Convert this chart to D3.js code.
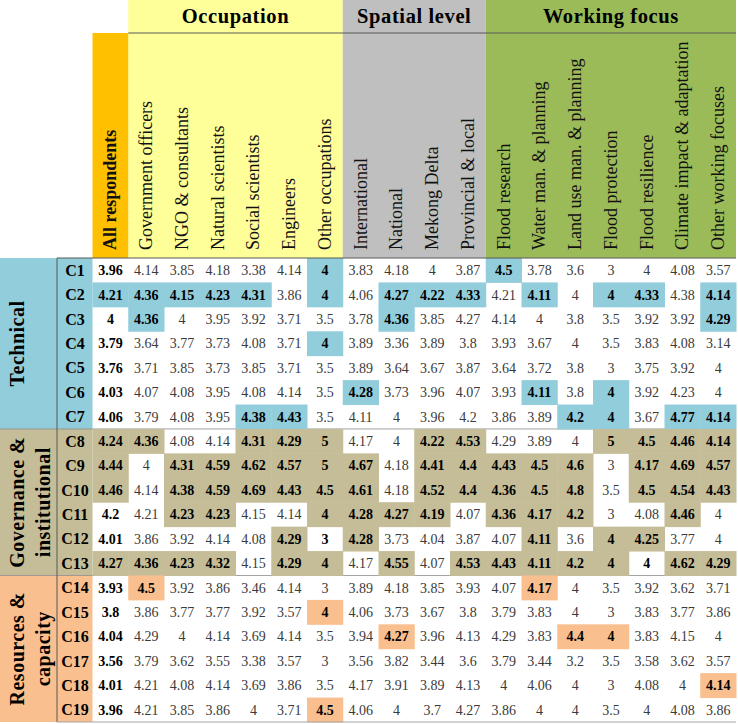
<!DOCTYPE html>
<html>
<head>
<meta charset="utf-8">
<script src="https://cdn.jsdelivr.net/npm/d3@7"></script>
<style>
  body { margin: 0; background: #fff; }
</style>
</head>
<body>
<div id="chart"></div>
<script>
// columns
const columns = [
  "All respondents",
  "Government officers", "NGO & consultants", "Natural scientists", "Social scientists", "Engineers", "Other occupations",
  "International", "National", "Mekong Delta", "Provincial & local",
  "Flood research", "Water man. & planning", "Land use man. & planning", "Flood protection",
  "Flood resilience", "Climate impact & adaptation", "Other working focuses"
];
const columnGroups = [
  { name: "Occupation", first: 1, last: 6 },
  { name: "Spatial level", first: 7, last: 10 },
  { name: "Working focus", first: 11, last: 17 }
];

// row blocks
const rowGroups = [
  { name: ["Technical"], rows: ["C1", "C2", "C3", "C4", "C5", "C6", "C7"] },
  { name: ["Governance &", "institutional"], rows: ["C8", "C9", "C10", "C11", "C12", "C13"] },
  { name: ["Resources &", "capacity"], rows: ["C14", "C15", "C16", "C17", "C18", "C19"] }
];

const values = {
  C1:  [3.96, 4.14, 3.85, 4.18, 3.38, 4.14, 4, 3.83, 4.18, 4, 3.87, 4.5, 3.78, 3.6, 3, 4, 4.08, 3.57],
  C2:  [4.21, 4.36, 4.15, 4.23, 4.31, 3.86, 4, 4.06, 4.27, 4.22, 4.33, 4.21, 4.11, 4, 4, 4.33, 4.38, 4.14],
  C3:  [4, 4.36, 4, 3.95, 3.92, 3.71, 3.5, 3.78, 4.36, 3.85, 4.27, 4.14, 4, 3.8, 3.5, 3.92, 3.92, 4.29],
  C4:  [3.79, 3.64, 3.77, 3.73, 4.08, 3.71, 4, 3.89, 3.36, 3.89, 3.8, 3.93, 3.67, 4, 3.5, 3.83, 4.08, 3.14],
  C5:  [3.76, 3.71, 3.85, 3.73, 3.85, 3.71, 3.5, 3.89, 3.64, 3.67, 3.87, 3.64, 3.72, 3.8, 3, 3.75, 3.92, 4],
  C6:  [4.03, 4.07, 4.08, 3.95, 4.08, 4.14, 3.5, 4.28, 3.73, 3.96, 4.07, 3.93, 4.11, 3.8, 4, 3.92, 4.23, 4],
  C7:  [4.06, 3.79, 4.08, 3.95, 4.38, 4.43, 3.5, 4.11, 4, 3.96, 4.2, 3.86, 3.89, 4.2, 4, 3.67, 4.77, 4.14],
  C8:  [4.24, 4.36, 4.08, 4.14, 4.31, 4.29, 5, 4.17, 4, 4.22, 4.53, 4.29, 3.89, 4, 5, 4.5, 4.46, 4.14],
  C9:  [4.44, 4, 4.31, 4.59, 4.62, 4.57, 5, 4.67, 4.18, 4.41, 4.4, 4.43, 4.5, 4.6, 3, 4.17, 4.69, 4.57],
  C10: [4.46, 4.14, 4.38, 4.59, 4.69, 4.43, 4.5, 4.61, 4.18, 4.52, 4.4, 4.36, 4.5, 4.8, 3.5, 4.5, 4.54, 4.43],
  C11: [4.2, 4.21, 4.23, 4.23, 4.15, 4.14, 4, 4.28, 4.27, 4.19, 4.07, 4.36, 4.17, 4.2, 3, 4.08, 4.46, 4],
  C12: [4.01, 3.86, 3.92, 4.14, 4.08, 4.29, 3, 4.28, 3.73, 4.04, 3.87, 4.07, 4.11, 3.6, 4, 4.25, 3.77, 4],
  C13: [4.27, 4.36, 4.23, 4.32, 4.15, 4.29, 4, 4.17, 4.55, 4.07, 4.53, 4.43, 4.11, 4.2, 4, 4, 4.62, 4.29],
  C14: [3.93, 4.5, 3.92, 3.86, 3.46, 4.14, 3, 3.89, 4.18, 3.85, 3.93, 4.07, 4.17, 4, 3.5, 3.92, 3.62, 3.71],
  C15: [3.8, 3.86, 3.77, 3.77, 3.92, 3.57, 4, 4.06, 3.73, 3.67, 3.8, 3.79, 3.83, 4, 3, 3.83, 3.77, 3.86],
  C16: [4.04, 4.29, 4, 4.14, 3.69, 4.14, 3.5, 3.94, 4.27, 3.96, 4.13, 4.29, 3.83, 4.4, 4, 3.83, 4.15, 4],
  C17: [3.56, 3.79, 3.62, 3.55, 3.38, 3.57, 3, 3.56, 3.82, 3.44, 3.6, 3.79, 3.44, 3.2, 3.5, 3.58, 3.62, 3.57],
  C18: [4.01, 4.21, 4.08, 4.14, 3.69, 3.86, 3.5, 4.17, 3.91, 3.89, 4.13, 4, 4.06, 4, 3, 4.08, 4, 4.14],
  C19: [3.96, 4.21, 3.85, 3.86, 4, 3.71, 4.5, 4.06, 4, 3.7, 4.27, 3.86, 4, 4, 3.5, 4, 4.08, 3.86]
};

// column indexes of highlighted cells per row
const highlighted = {
  C1: [6, 11],
  C2: [0, 1, 2, 3, 4, 6, 8, 9, 10, 12, 14, 15, 17],
  C3: [1, 8, 17],
  C4: [6],
  C5: [],
  C6: [7, 12, 14],
  C7: [4, 5, 13, 14, 16, 17],
  C8: [0, 1, 4, 5, 6, 9, 10, 14, 15, 16, 17],
  C9: [0, 2, 3, 4, 5, 6, 7, 9, 10, 11, 12, 13, 15, 16, 17],
  C10: [0, 2, 3, 4, 5, 6, 7, 9, 10, 11, 12, 13, 15, 16, 17],
  C11: [2, 3, 6, 7, 8, 9, 11, 12, 13, 16],
  C12: [5, 7, 12, 14, 15],
  C13: [0, 1, 2, 3, 5, 6, 8, 10, 11, 12, 13, 14, 16, 17],
  C14: [1, 12],
  C15: [6],
  C16: [8, 13, 14],
  C17: [],
  C18: [17],
  C19: [6]
};
// bold values that are not highlighted
const boldExtra = { C12: [6], C13: [15] };

// styles
const W = 738, H = 724;
const font = "'Liberation Serif', 'Times New Roman', 'DejaVu Serif', serif";
const rowGroupColors = ["#92cddc", "#c4bd97", "#fabf8f"];
const colGroupColors = ["#ffff99", "#bfbfbf", "#9bbb59"];
const allColor = "#ffc000";
const lineColor = "#595959";

const rowNames = rowGroups.flatMap(g => g.rows);
const rowColor = {};
rowGroups.forEach((g, i) => g.rows.forEach(r => (rowColor[r] = rowGroupColors[i])));

const x = d3.scaleBand().domain(d3.range(columns.length)).range([92.5, 736]);
const y = d3.scaleBand().domain(rowNames).range([258, 722]);
const headTop = 33, headBottom = 258;

const svg = d3.select("#chart").append("svg")
  .attr("width", W).attr("height", H)
  .attr("font-family", font)
  .style("display", "block");

// header backgrounds
svg.selectAll("rect.cg")
  .data(columnGroups)
  .join("rect")
  .attr("x", d => x(d.first))
  .attr("y", 0)
  .attr("width", d => x(d.last) + x.bandwidth() - x(d.first))
  .attr("height", headBottom)
  .attr("fill", (d, i) => colGroupColors[i]);

svg.append("rect")
  .attr("x", x(0)).attr("y", headTop)
  .attr("width", x.bandwidth()).attr("height", headBottom - headTop)
  .attr("fill", allColor);

svg.selectAll("text.cg")
  .data(columnGroups)
  .join("text")
  .attr("x", d => (x(d.first) + x(d.last) + x.bandwidth()) / 2)
  .attr("y", 23)
  .attr("text-anchor", "middle")
  .attr("font-size", 20.5)
  .attr("font-weight", "bold")
  .attr("letter-spacing", 0.6)
  .text(d => d.name);

svg.append("line")
  .attr("x1", x(1)).attr("x2", x.range()[1])
  .attr("y1", headTop).attr("y2", headTop)
  .attr("stroke", lineColor).attr("stroke-width", 1);

// rotated column labels
svg.selectAll("text.col")
  .data(columns)
  .join("text")
  .attr("transform", (d, i) => `translate(${x(i) + x.bandwidth() / 2 + 6},250) rotate(-90)`)
  .attr("font-size", 18)
  .attr("font-weight", (d, i) => (i === 0 ? "bold" : "normal"))
  .attr("fill", "#111")
  .text(d => d);

// row group blocks
rowGroups.forEach((g, i) => {
  const y0 = y(g.rows[0]);
  const y1 = y(g.rows[g.rows.length - 1]) + y.bandwidth();
  svg.append("rect")
    .attr("x", 0).attr("y", y0)
    .attr("width", x(0)).attr("height", y1 - y0)
    .attr("fill", rowGroupColors[i]);
  const cy = (y0 + y1) / 2;
  g.name.forEach((t, k) => {
    svg.append("text")
      .attr("transform", `translate(${24 + k * 26},${cy}) rotate(-90)`)
      .attr("text-anchor", "middle")
      .attr("font-size", 20)
      .attr("font-weight", "bold")
      .attr("letter-spacing", 0.5)
      .text(t);
  });
  if (i > 0) {
    svg.append("line")
      .attr("x1", 0).attr("x2", x.range()[1])
      .attr("y1", y0).attr("y2", y0)
      .attr("stroke", "#8c8c8c").attr("stroke-width", 0.8);
  }
});

// highlighted cells
const cells = rowNames.flatMap(r =>
  values[r].map((v, c) => ({
    row: r, col: c, value: v,
    hi: highlighted[r].includes(c),
    bold: c === 0 || highlighted[r].includes(c) || (boldExtra[r] || []).includes(c)
  }))
);

svg.selectAll("rect.cell")
  .data(cells.filter(d => d.hi))
  .join("rect")
  .attr("x", d => x(d.col))
  .attr("y", d => y(d.row))
  .attr("width", x.bandwidth() + 0.5)
  .attr("height", y.bandwidth() + 0.5)
  .attr("fill", d => rowColor[d.row]);

svg.selectAll("text.cell")
  .data(cells)
  .join("text")
  .attr("x", d => x(d.col) + x.bandwidth() / 2)
  .attr("y", d => y(d.row) + y.bandwidth() / 2)
  .attr("dy", "0.35em")
  .attr("text-anchor", "middle")
  .attr("font-size", 14)
  .attr("font-weight", d => (d.bold ? "bold" : "normal"))
  .attr("fill", d => (d.bold ? "#000" : "#3a3a3a"))
  .text(d => d3.format("")(d.value));

// row labels
svg.selectAll("text.row")
  .data(rowNames)
  .join("text")
  .attr("x", 75)
  .attr("y", d => y(d) + y.bandwidth() / 2)
  .attr("dy", "0.35em")
  .attr("text-anchor", "middle")
  .attr("font-size", 16)
  .attr("font-weight", "bold")
  .text(d => d);

// table rules
svg.append("line")
  .attr("x1", 57).attr("x2", x.range()[1])
  .attr("y1", headBottom).attr("y2", headBottom)
  .attr("stroke", lineColor).attr("stroke-width", 1);
svg.append("line")
  .attr("x1", 57).attr("x2", 57)
  .attr("y1", headBottom).attr("y2", y.range()[1])
  .attr("stroke", lineColor).attr("stroke-width", 1);
svg.append("line")
  .attr("x1", 57).attr("x2", x.range()[1])
  .attr("y1", y.range()[1]).attr("y2", y.range()[1])
  .attr("stroke", "#a6a6a6").attr("stroke-width", 1.2);
</script>
</body>
</html>
